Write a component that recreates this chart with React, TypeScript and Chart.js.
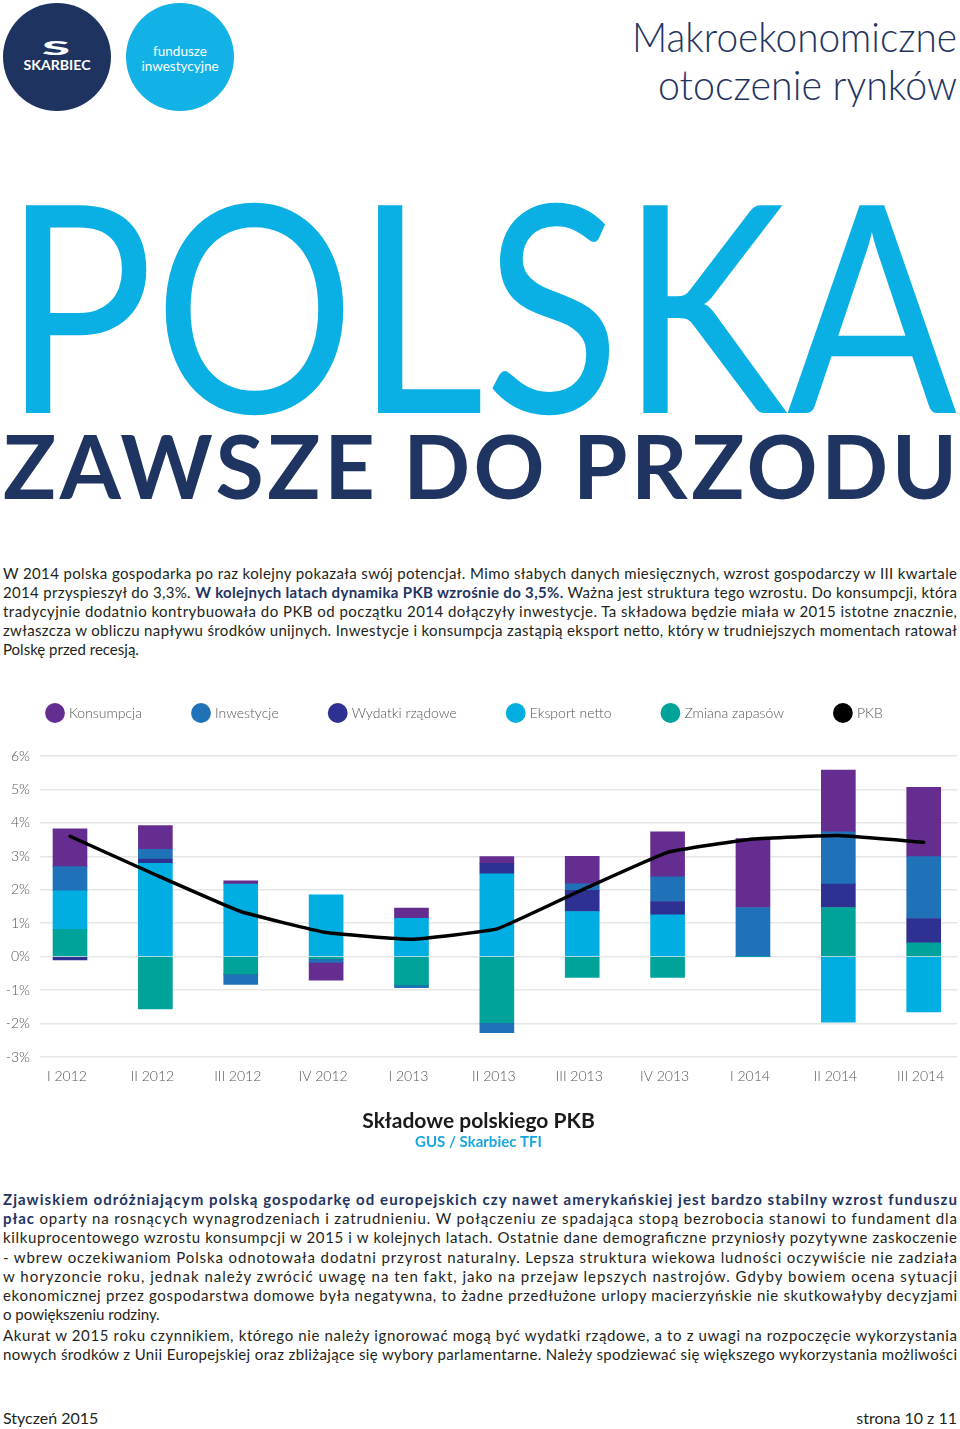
import React, { useEffect, useRef } from 'react';
import { Chart, registerables } from 'chart.js';

Chart.register(...registerables);

// ---------- data ----------
const categories = ['I 2012', 'II 2012', 'III 2012', 'IV 2012', 'I 2013', 'II 2013', 'III 2013', 'IV 2013', 'I 2014', 'II 2014', 'III 2014'];
const konsumpcja = [1.13, 0.71, 0.10, -0.53, 0.30, 0.20, 0.82, 1.34, 2.06, 1.85, 2.07];
const inwestycje = [0.72, 0.29, -0.31, -0.10, -0.08, -0.30, 0.20, 0.74, 1.47, 1.56, 1.85];
const wydatkiRzadowe = [-0.10, 0.13, 0, 0, 0, 0.31, 0.63, 0.40, 0, 0.70, 0.73];
const eksportNetto = [1.15, 2.79, 2.17, 1.85, 1.15, 2.48, 1.35, 1.25, 0, -1.96, -1.65];
const zmianaZapasow = [0.82, -1.56, -0.52, -0.07, -0.85, -1.97, -0.62, -0.62, 0, 1.47, 0.41];
const pkb = [3.60, 2.45, 1.35, 0.72, 0.52, 0.83, 2.00, 3.12, 3.52, 3.62, 3.42];
const yTickValues = [-3, -2, -1, 0, 1, 2, 3, 4, 5, 6];

const seriesLabels = ['Konsumpcja', 'Inwestycje', 'Wydatki rządowe', 'Eksport netto', 'Zmiana zapasów', 'PKB'];
const seriesColors = ['#662d91', '#1f72b8', '#2e3192', '#00aee2', '#00a39a', '#000000'];

const NAVY = '#1f3461';
const TEXT = '#231f20';
const FONT = 'Lato, "Open Sans", sans-serif';

function PkbChart() {
  const ref = useRef<HTMLCanvasElement | null>(null);
  useEffect(() => {
    if (!ref.current) return;
    const toPts = (arr: number[]) => arr.map((v, i) => ({ x: i, y: v }));
    const bar = (idx: number, arr: number[]) => ({
      type: 'bar' as const,
      label: seriesLabels[idx],
      data: toPts(arr),
      backgroundColor: seriesColors[idx],
      borderWidth: 0,
      barThickness: 34,
      stack: 'g',
    });
    // stacking order: closest to zero first
    const datasets: any[] = [
      bar(4, zmianaZapasow),
      bar(3, eksportNetto),
      bar(2, wydatkiRzadowe),
      bar(1, inwestycje),
      bar(0, konsumpcja),
      {
        type: 'line',
        label: seriesLabels[5],
        data: toPts(pkb),
        borderColor: seriesColors[5],
        backgroundColor: seriesColors[5],
        borderWidth: 3.5,
        pointRadius: 0,
        tension: 0.1,
        stack: 'pkb',
        order: -1,
        borderJoinStyle: 'round',
        borderCapStyle: 'round',
      },
    ];
    const legendRank = (i: number) => (i === 5 ? 5 : 4 - i);
    const legendSpacer = {
      id: 'legendSpacer',
      beforeInit(chart: any) {
        const orig = chart.legend.fit;
        chart.legend.fit = function () {
          orig.call(this);
          this.height += 26;
        };
      },
      afterLayout(chart: any) {
        chart.legend.left -= 4;
      },
    };
    const tickFont = { family: FONT, size: 14, weight: '300' as any };
    const chart = new Chart(ref.current, {
      type: 'bar',
      data: { datasets },
      plugins: [legendSpacer],
      options: {
        animation: false,
        responsive: false,
        layout: { padding: { left: 0, right: 3, top: 0, bottom: 2.4 } },
        scales: {
          x: {
            type: 'linear',
            offset: false,
            min: -0.3514,
            max: 10.39,
            stacked: true,
            grid: { display: false, drawTicks: false },
            border: { display: false },
            afterBuildTicks: (s: any) => {
              s.ticks = categories.map((_, i) => ({ value: i }));
            },
            afterFit: (s: any) => {
              s.height = 30;
            },
            ticks: {
              callback: (v: any) => categories[v] ?? '',
              padding: 11,
              font: tickFont,
              color: '#555',
              maxRotation: 0,
              autoSkip: false,
              labelOffset: -3,
            },
          },
          y: {
            min: yTickValues[0],
            max: yTickValues[yTickValues.length - 1],
            stacked: true,
            afterBuildTicks: (s: any) => {
              s.ticks = yTickValues.map((v) => ({ value: v }));
            },
            afterFit: (s: any) => {
              s.width = 40;
            },
            ticks: {
              callback: (v: any) => v + '%',
              padding: 10,
              font: tickFont,
              color: '#555',
            },
            grid: { color: '#e6e6e6', lineWidth: 1.5, drawTicks: false },
            border: { display: false },
          },
        },
        plugins: {
          legend: {
            position: 'top',
            align: 'start',
            labels: {
              usePointStyle: true,
              pointStyle: 'circle',
              padding: 52,
              boxWidth: 14,
              boxHeight: 14,
              color: '#555',
              font: { family: FONT, size: 14, weight: '300' as any },
              sort: (a: any, b: any) => legendRank(a.datasetIndex) - legendRank(b.datasetIndex),
              generateLabels: (c: any) =>
                Chart.defaults.plugins.legend.labels.generateLabels(c).map((it: any) => ({ ...it, lineWidth: 0, pointStyle: 'circle' })),
            },
          },
          title: {
            display: true,
            text: 'Składowe polskiego PKB',
            position: 'bottom',
            weight: 1600,
            color: '#1a1a1a',
            font: { family: FONT, size: 21, weight: 'bold' },
            padding: { top: 21.4, bottom: 0 },
          } as any,
          subtitle: {
            display: true,
            text: 'GUS / Skarbiec TFI',
            position: 'bottom',
            weight: 2000,
            color: '#1aa7df',
            font: { family: FONT, size: 15, weight: 'bold' },
            padding: { top: 0, bottom: 0 },
          } as any,
          tooltip: { enabled: false },
        },
      },
    });
    return () => chart.destroy();
  }, []);
  return (
    <canvas
      ref={ref}
      width={960}
      height={500}
      style={{ position: 'absolute', left: 0, top: 653.5, width: 960, height: 500 }}
    />
  );
}

type Seg = { t: string; b?: boolean };
function Line({ y, segs, justify = true, size = 15 }: { y: number; segs: Seg[]; justify?: boolean; size?: number }) {
  const extra: any = justify ? { textLength: 954, lengthAdjust: 'spacing' } : {};
  return (
    <text x={3} y={y} fontSize={size} fill={TEXT} {...extra}>
      {segs.map((s, i) =>
        s.b ? (
          <tspan key={i} fontWeight={700} fill={NAVY}>
            {s.t}
          </tspan>
        ) : (
          <tspan key={i}>{s.t}</tspan>
        )
      )}
    </text>
  );
}

export default function App() {
  return (
    <div style={{ position: 'relative', width: 960, height: 1429, overflow: 'hidden', background: '#fff' }}>
      <style>{`body{margin:0;}`}</style>
      <svg width={960} height={1429} style={{ position: 'absolute', left: 0, top: 0, fontFamily: FONT }}>
        {/* logos */}
        <circle cx={57} cy={57} r={54} fill="#1e3360" />
        <circle cx={180} cy={57} r={54} fill="#12b1e6" />
        <text x={42} y={55} fill="#fff" fontSize={19} fontWeight={900} textLength={28} lengthAdjust="spacingAndGlyphs">
          S
        </text>
        <text x={57} y={70} fill="#fff" fontSize={13} fontWeight={700} textAnchor="middle" textLength={67} lengthAdjust="spacingAndGlyphs">
          SKARBIEC
        </text>
        <text x={180} y={56} fill="#fff" fontSize={13.5} textAnchor="middle">
          fundusze
        </text>
        <text x={180} y={71} fill="#fff" fontSize={13.5} textAnchor="middle">
          inwestycyjne
        </text>
        {/* header title */}
        <text x={957} y={52} fill={NAVY} fontSize={41} fontWeight={300} textAnchor="end" textLength={325} lengthAdjust="spacingAndGlyphs">
          Makroekonomiczne
        </text>
        <text x={957} y={100} fill={NAVY} fontSize={41} fontWeight={300} textAnchor="end" textLength={299} lengthAdjust="spacingAndGlyphs">
          otoczenie rynków
        </text>
        {/* big headline */}
        <text x={3} y={413} fill="#0aafe4" fontSize={290} fontWeight={400} textLength={954} lengthAdjust="spacingAndGlyphs">
          POLSKA
        </text>
        <text x={3} y={499} fill={NAVY} fontSize={88} fontWeight={700} textLength={954} lengthAdjust="spacing">
          ZAWSZE DO PRZODU
        </text>
        {/* paragraph 1 */}
        <Line y={578.5} segs={[{ t: 'W 2014 polska gospodarka po raz kolejny pokazała swój potencjał. Mimo słabych danych miesięcznych, wzrost gospodarczy w III kwartale' }]} />
        <Line
          y={597.7}
          segs={[
            { t: '2014 przyspieszył do 3,3%. ' },
            { t: 'W kolejnych latach dynamika PKB wzrośnie do 3,5%.', b: true },
            { t: ' Ważna jest struktura tego wzrostu. Do konsumpcji, która' },
          ]}
        />
        <Line y={616.9} segs={[{ t: 'tradycyjnie dodatnio kontrybuowała do PKB od początku 2014 dołączyły inwestycje. Ta składowa będzie miała w 2015 istotne znacznie,' }]} />
        <Line y={636.1} segs={[{ t: 'zwłaszcza w obliczu napływu środków unijnych. Inwestycje i konsumpcja zastąpią eksport netto, który w trudniejszych momentach ratował' }]} />
        <Line y={655.3} justify={false} segs={[{ t: 'Polskę przed recesją.' }]} />
        {/* paragraph 2 */}
        <Line y={1205} segs={[{ t: 'Zjawiskiem odróżniającym polską gospodarkę od europejskich czy nawet amerykańskiej jest bardzo stabilny wzrost funduszu', b: true }]} />
        <Line
          y={1224.2}
          segs={[
            { t: 'płac', b: true },
            { t: ' oparty na rosnących wynagrodzeniach i zatrudnieniu. W połączeniu ze spadająca stopą bezrobocia stanowi to fundament dla' },
          ]}
        />
        <Line y={1243.4} segs={[{ t: 'kilkuprocentowego wzrostu konsumpcji w 2015 i w kolejnych latach. Ostatnie dane demograficzne przyniosły pozytywne zaskoczenie' }]} />
        <Line y={1262.6} segs={[{ t: '- wbrew oczekiwaniom Polska odnotowała dodatni przyrost naturalny. Lepsza struktura wiekowa ludności oczywiście nie zadziała' }]} />
        <Line y={1281.8} segs={[{ t: 'w horyzoncie roku, jednak należy zwrócić uwagę na ten fakt, jako na przejaw lepszych nastrojów. Gdyby bowiem ocena sytuacji' }]} />
        <Line y={1301} segs={[{ t: 'ekonomicznej przez gospodarstwa domowe była negatywna, to żadne przedłużone urlopy macierzyńskie nie skutkowałyby decyzjami' }]} />
        <Line y={1320.2} justify={false} segs={[{ t: 'o powiększeniu rodziny.' }]} />
        <Line y={1340.5} segs={[{ t: 'Akurat w 2015 roku czynnikiem, którego nie należy ignorować mogą być wydatki rządowe, a to z uwagi na rozpoczęcie wykorzystania' }]} />
        <Line y={1359.7} segs={[{ t: 'nowych środków z Unii Europejskiej oraz zbliżające się wybory parlamentarne. Należy spodziewać się większego wykorzystania możliwości' }]} />
        {/* footer */}
        <text x={3} y={1424} fontSize={16} fill={TEXT}>
          Styczeń 2015
        </text>
        <text x={957} y={1424} fontSize={16} fill={TEXT} textAnchor="end">
          strona 10 z 11
        </text>
      </svg>
      <PkbChart />
    </div>
  );
}
